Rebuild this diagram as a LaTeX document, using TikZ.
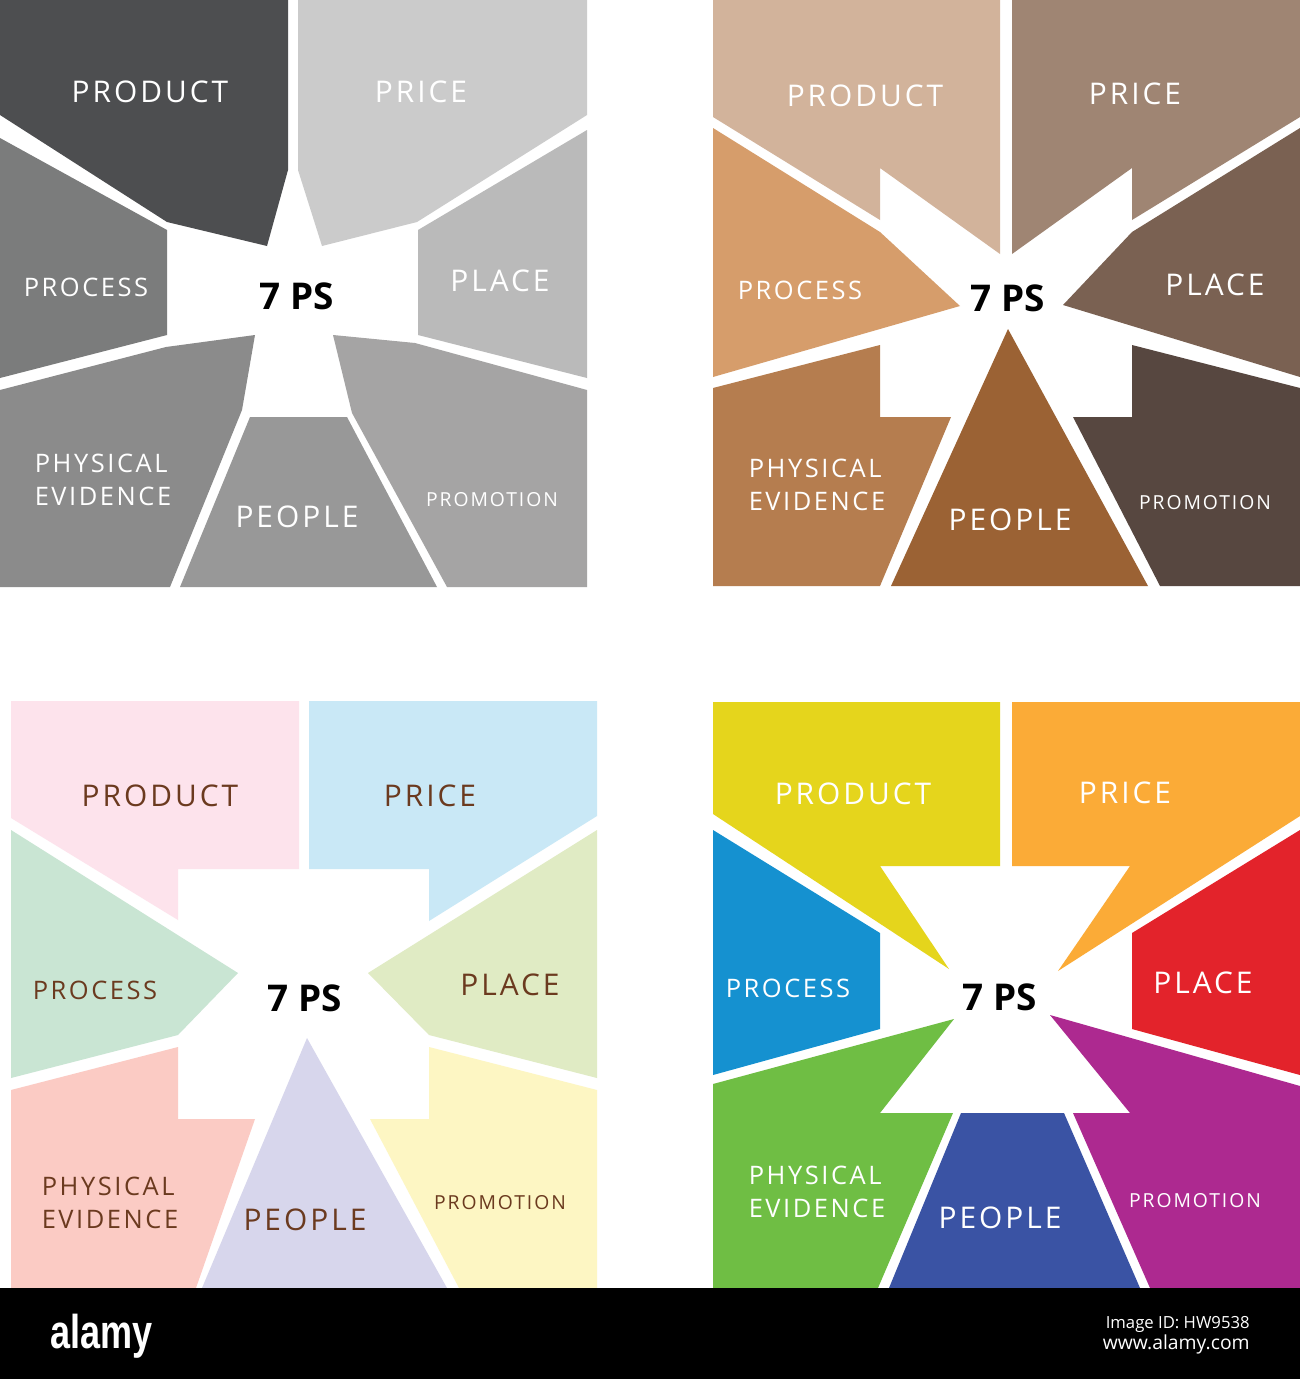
\documentclass[tikz,border=0pt]{standalone}
\usepackage{fontspec}
\usepackage{graphicx}
\usepackage{tikz}
\setmainfont{Open Sans}
\newfontfamily\handfont[LetterSpace=10]{Open Sans}
\newfontfamily\barfont{Liberation Sans}
% grey set
\definecolor{grayproduct}{RGB}{77, 78, 80}
\definecolor{grayprice}{RGB}{203, 203, 203}
\definecolor{grayprocess}{RGB}{123, 124, 124}
\definecolor{grayplace}{RGB}{186, 186, 186}
\definecolor{grayphysical}{RGB}{139, 139, 139}
\definecolor{graypeople}{RGB}{152, 152, 152}
\definecolor{graypromotion}{RGB}{165, 164, 164}
% brown set
\definecolor{tanproduct}{RGB}{210, 179, 155}
\definecolor{tanprice}{RGB}{159, 133, 115}
\definecolor{tanprocess}{RGB}{214, 157, 107}
\definecolor{tanplace}{RGB}{122, 97, 82}
\definecolor{tanphysical}{RGB}{181, 125, 79}
\definecolor{tanpeople}{RGB}{155, 98, 52}
\definecolor{tanpromotion}{RGB}{87, 71, 64}
% pastel set
\definecolor{pinkproduct}{RGB}{253, 227, 236}
\definecolor{blueprice}{RGB}{201, 232, 246}
\definecolor{mintprocess}{RGB}{201, 229, 211}
\definecolor{limeplace}{RGB}{224, 235, 196}
\definecolor{rosephysical}{RGB}{251, 203, 196}
\definecolor{lilacpeople}{RGB}{215, 214, 236}
\definecolor{creampromotion}{RGB}{253, 246, 195}
\definecolor{pastelink}{RGB}{107, 58, 31}
% bright set
\definecolor{brightproduct}{RGB}{229, 213, 28}
\definecolor{brightprice}{RGB}{251, 171, 55}
\definecolor{brightprocess}{RGB}{21, 145, 208}
\definecolor{brightplace}{RGB}{227, 35, 43}
\definecolor{brightphysical}{RGB}{111, 190, 68}
\definecolor{brightpeople}{RGB}{58, 83, 164}
\definecolor{brightpromotion}{RGB}{173, 41, 144}

\begin{document}
\begin{tikzpicture}[x=0.02cm, y=-0.02cm]
    % Define styles
    \tikzstyle{word} = [font=\handfont\fontsize{17}{17}\selectfont, text=white, inner sep=0pt]
    \tikzstyle{smallword} = [font=\handfont\fontsize{14.5}{19}\selectfont, text=white, inner sep=0pt, align=left]
    \tikzstyle{tinyword} = [font=\handfont\fontsize{11}{11}\selectfont, text=white, inner sep=0pt]
    \tikzstyle{hub} = [font=\bfseries\fontsize{21}{21}\selectfont, text=black, inner sep=0pt]

    \useasboundingbox (0,0) rectangle (1300,1379);
    \fill[white] (0,0) rectangle (1300,1379);

    % Grey wheel
    \fill[grayproduct] (0,0) -- (288,0) -- (288,170) -- (267,246) -- (167,222) -- (0,115) -- cycle;
    \fill[grayprice] (298,0) -- (587,0) -- (587,115) -- (417,222) -- (322,246) -- (298,170) -- cycle;
    \fill[grayprocess] (0,138) -- (167,230) -- (167,335) -- (0,378) -- cycle;
    \fill[grayplace] (418,230) -- (587,130) -- (587,378) -- (418,335) -- cycle;
    \fill[grayphysical] (0,390) -- (166,347) -- (255,335) -- (242,410) -- (170,587) -- (0,587) -- cycle;
    \fill[graypeople] (250,417) -- (347,417) -- (437,587) -- (180,587) -- cycle;
    \fill[graypromotion] (333,335) -- (415,343) -- (587,390) -- (587,587) -- (447,587) -- (352,413) -- cycle;

    \node[word] (product1) at (150,92) {PRODUCT};
    \node[word] (price1) at (421,92) {PRICE};
    \node[smallword] (process1) at (86,287) {PROCESS};
    \node[hub] (hub1) at (297,296) {7 PS};
    \node[word] (place1) at (500,281) {PLACE};
    \node[smallword] (physical1) at (103,480) {PHYSICAL\\EVIDENCE};
    \node[word] (people1) at (297,517) {PEOPLE};
    \node[tinyword] (promotion1) at (492,500) {PROMOTION};

    % Brown wheel
    \fill[tanproduct] (713,0) -- (1000,0) -- (1000,254) -- (880,168) -- (880,220) -- (713,117) -- cycle;
    \fill[tanprice] (1012,0) -- (1300,0) -- (1300,117) -- (1132,220) -- (1132,168) -- (1012,254) -- cycle;
    \fill[tanprocess] (713,128) -- (880,232) -- (960,306) -- (713,377) -- cycle;
    \fill[tanplace] (1300,128) -- (1132,232) -- (1063,305) -- (1300,377) -- cycle;
    \fill[tanphysical] (713,388) -- (880,345) -- (880,417) -- (951,417) -- (880,586) -- (713,586) -- cycle;
    \fill[tanpeople] (1008,329) -- (1148,586) -- (891,586) -- cycle;
    \fill[tanpromotion] (1300,388) -- (1132,345) -- (1132,417) -- (1073,417) -- (1160,586) -- (1300,586) -- cycle;

    \node[word] (product2) at (865,96) {PRODUCT};
    \node[word] (price2) at (1135,94) {PRICE};
    \node[smallword] (process2) at (800,290) {PROCESS};
    \node[hub] (hub2) at (1008,298) {7 PS};
    \node[word] (place2) at (1215,285) {PLACE};
    \node[smallword] (physical2) at (817,485) {PHYSICAL\\EVIDENCE};
    \node[word] (people2) at (1010,520) {PEOPLE};
    \node[tinyword] (promotion2) at (1205,503) {PROMOTION};

    % Pastel wheel
    \fill[pinkproduct] (11,701) -- (299,701) -- (299,869) -- (178,869) -- (178,920) -- (11,818) -- cycle;
    \fill[blueprice] (309,701) -- (597,701) -- (597,816) -- (429,921) -- (429,869) -- (309,869) -- cycle;
    \fill[mintprocess] (11,830) -- (238,973) -- (178,1035) -- (11,1078) -- cycle;
    \fill[limeplace] (597,830) -- (368,973) -- (429,1035) -- (597,1078) -- cycle;
    \fill[rosephysical] (11,1090) -- (178,1047) -- (178,1119) -- (255,1119) -- (196,1288) -- (11,1288) -- cycle;
    \fill[lilacpeople] (307,1038) -- (447,1288) -- (202,1288) -- cycle;
    \fill[creampromotion] (597,1090) -- (429,1047) -- (429,1119) -- (370,1119) -- (459,1288) -- (597,1288) -- cycle;

    \node[word, text=pastelink] (product3) at (160,796) {PRODUCT};
    \node[word, text=pastelink] (price3) at (430,796) {PRICE};
    \node[smallword, text=pastelink] (process3) at (95,990) {PROCESS};
    \node[hub] (hub3) at (305,998) {7 PS};
    \node[word, text=pastelink] (place3) at (510,985) {PLACE};
    \node[smallword, text=pastelink] (physical3) at (110,1203) {PHYSICAL\\EVIDENCE};
    \node[word, text=pastelink] (people3) at (305,1220) {PEOPLE};
    \node[tinyword, text=pastelink] (promotion3) at (500,1203) {PROMOTION};

    % Bright wheel
    \fill[brightproduct] (713,702) -- (1000,702) -- (1000,866) -- (880,866) -- (949,969) -- (713,814) -- cycle;
    \fill[brightprice] (1012,702) -- (1300,702) -- (1300,816) -- (1058,971) -- (1130,866) -- (1012,866) -- cycle;
    \fill[brightprocess] (713,830) -- (880,933) -- (880,1029) -- (713,1075) -- cycle;
    \fill[brightplace] (1300,830) -- (1132,933) -- (1132,1029) -- (1300,1075) -- cycle;
    \fill[brightphysical] (713,1084) -- (954,1019) -- (880,1113) -- (953,1113) -- (878,1288) -- (713,1288) -- cycle;
    \fill[brightpeople] (961,1113) -- (1064,1113) -- (1140,1288) -- (889,1288) -- cycle;
    \fill[brightpromotion] (1050,1015) -- (1300,1086) -- (1300,1288) -- (1150,1288) -- (1073,1113) -- (1130,1113) -- cycle;

    \node[word] (product4) at (853,794) {PRODUCT};
    \node[word] (price4) at (1125,793) {PRICE};
    \node[smallword] (process4) at (788,988) {PROCESS};
    \node[hub] (hub4) at (1000,997) {7 PS};
    \node[word] (place4) at (1203,983) {PLACE};
    \node[smallword] (physical4) at (817,1192) {PHYSICAL\\EVIDENCE};
    \node[word] (people4) at (1000,1218) {PEOPLE};
    \node[tinyword] (promotion4) at (1195,1201) {PROMOTION};

    % Stock bar
    \fill[black] (0,1288) rectangle (1300,1379);
    \node[font=\barfont\bfseries\fontsize{27}{27}\selectfont, text=white, inner sep=0pt, anchor=base west] (logo) at (50,1348) {\scalebox{0.76}[1]{alamy}};
    \node[font=\fontsize{9.5}{9.5}\selectfont, text=white, inner sep=0pt, anchor=base east] (imageid) at (1250,1328) {Image ID: HW9538};
    \node[font=\fontsize{11}{11}\selectfont, text=white, inner sep=0pt, anchor=base east] (website) at (1250,1349) {www.alamy.com};
\end{tikzpicture}
\end{document}
